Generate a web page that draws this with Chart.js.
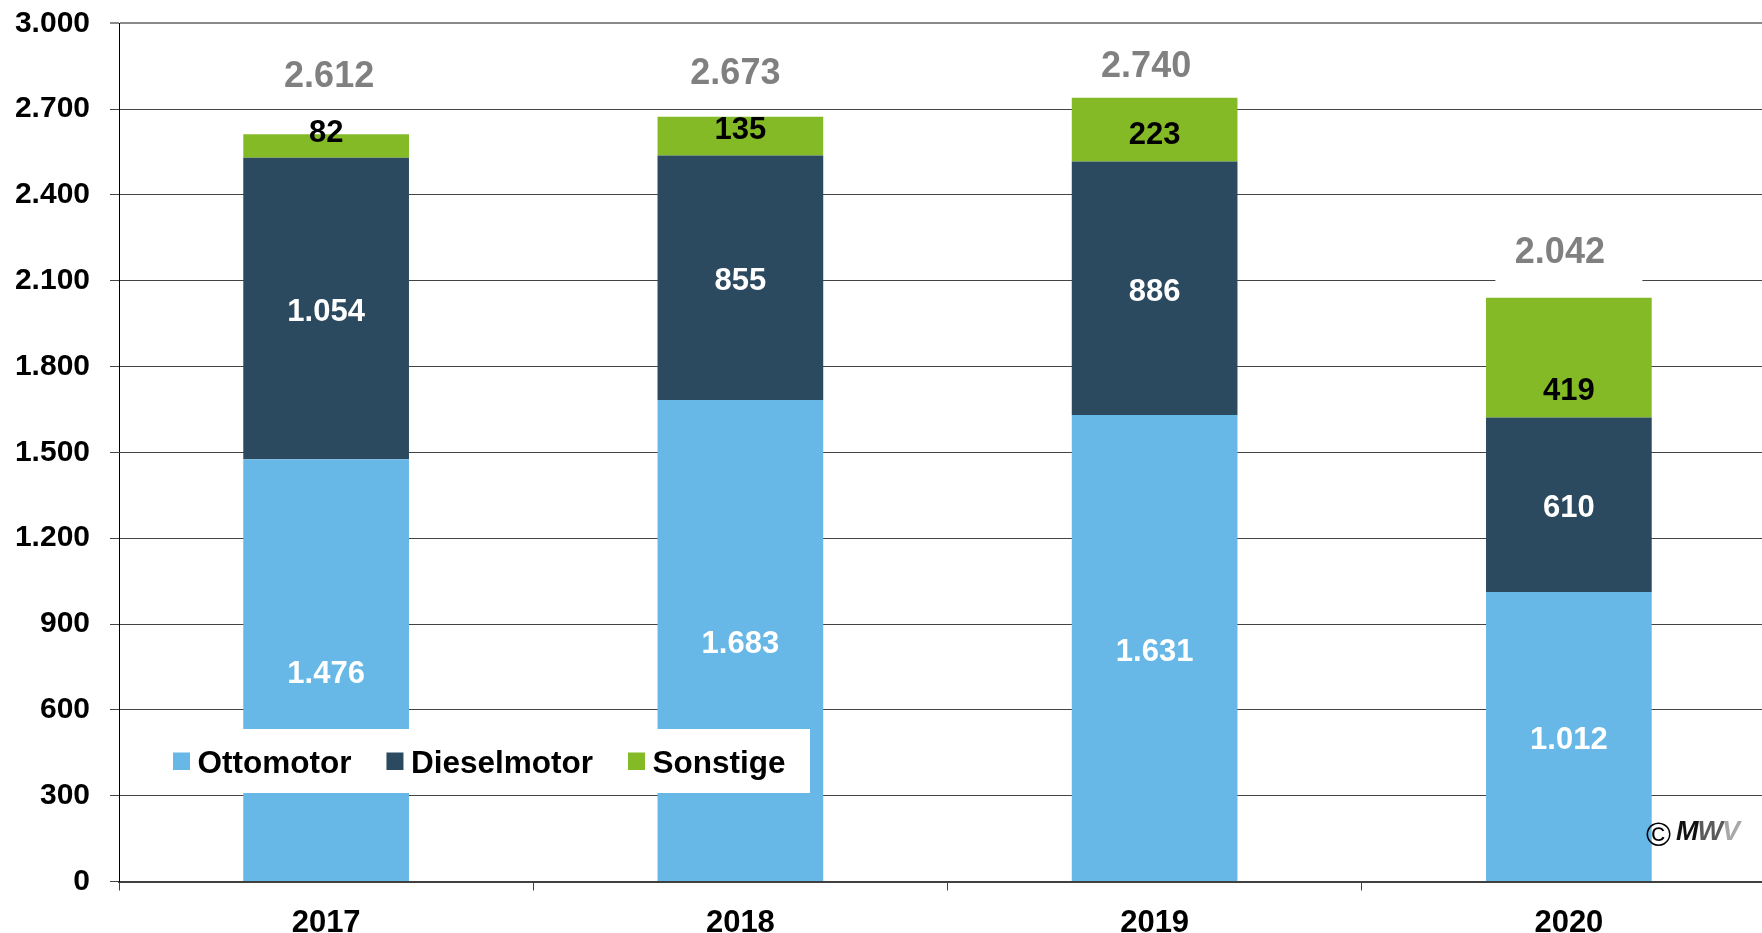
<!DOCTYPE html>
<html>
<head>
<meta charset="utf-8">
<script src="https://cdn.jsdelivr.net/npm/chart.js@4.4.1/dist/chart.umd.min.js"></script>
<style>
html,body{margin:0;padding:0;background:#fff;overflow:hidden;width:1762px;height:933px}
#wrap{position:absolute;left:0;top:0;width:1800px;height:933px}
</style>
</head>
<body>
<div id="wrap"><canvas id="c" width="1800" height="933"></canvas></div>
<script>
// ---- data ----
const categories = ['2017', '2018', '2019', '2020'];
const seriesNames = ['Ottomotor', 'Dieselmotor', 'Sonstige'];
const ottomotor = [1476, 1683, 1631, 1012];
const dieselmotor = [1054, 855, 886, 610];
const sonstige = [82, 135, 223, 419];
const totals = [2612, 2673, 2740, 2042];
const yTicks = [0, 300, 600, 900, 1200, 1500, 1800, 2100, 2400, 2700, 3000];

// ---- styles ----
const FONT = '"Liberation Sans", Arial, Helvetica, sans-serif';
const colors = ['#67B8E6', '#2C4A5F', '#85BA27'];
const labelColors = ['#ffffff', '#ffffff', '#000000'];

function fmt(v) {
  return String(v).replace(/\B(?=(\d{3})+(?!\d))/g, '.');
}

const labelPlugin = {
  id: 'customLabels',
  afterDatasetsDraw(chart, args, opts) {
    const ctx = chart.ctx;
    ctx.save();
    ctx.textAlign = 'center';
    ctx.textBaseline = 'middle';
    // segment labels
    chart.data.datasets.forEach((ds, i) => {
      const meta = chart.getDatasetMeta(i);
      meta.data.forEach((bar, j) => {
        const nud = (opts.nudge[i] && opts.nudge[i][j]) || 0;
        const y = (bar.y + bar.base) / 2 + nud + 4;
        ctx.font = 'bold 31px ' + FONT;
        ctx.fillStyle = labelColors[i];
        ctx.fillText(fmt(ds.data[j]), bar.x, y);
      });
    });
    // totals
    const last = chart.getDatasetMeta(chart.data.datasets.length - 1);
    totals.forEach((t, j) => {
      const bar = last.data[j];
      const cx = bar.x + opts.totalDx[j];
      const cy = bar.y + opts.totalDy[j] + 3;
      ctx.fillStyle = '#ffffff';
      ctx.fillRect(bar.x - 73.5, cy - 30, 147, 59.5);
      ctx.fillStyle = '#808080';
      ctx.font = 'bold 36px ' + FONT;
      ctx.fillText(fmt(t), cx, cy);
    });
    // legend
    ctx.fillStyle = '#ffffff';
    ctx.fillRect(150, 729, 660, 64);
    let x = 173;
    ctx.font = 'bold 31.5px ' + FONT;
    ctx.textAlign = 'left';
    ctx.textBaseline = 'alphabetic';
    chart.data.datasets.forEach((ds, i) => {
      ctx.fillStyle = ds.backgroundColor;
      ctx.fillRect(x, 752.5, 17, 17.5);
      x += 17 + 7.5;
      ctx.fillStyle = '#000';
      ctx.fillText(ds.label, x, 772.5);
      x += ctx.measureText(ds.label).width + 35;
    });
    // copyright
    ctx.textBaseline = 'middle';
    ctx.fillStyle = '#000';
    ctx.font = '34px ' + FONT;
    ctx.fillText('\u00A9', 1646, 837);
    ctx.font = 'italic bold 27px ' + FONT;
    let lx = 1676;
    [['M', '#111'], ['W', '#5a5a5a'], ['V', '#a8a8a8']].forEach(([ch, col]) => {
      ctx.fillStyle = col;
      ctx.fillText(ch, lx, 833);
      lx += ctx.measureText(ch).width - 1;
    });
    ctx.restore();
  }
};

const chart = new Chart(document.getElementById('c'), {
  type: 'bar',
  data: {
    labels: categories,
    datasets: [
      { label: seriesNames[0], data: ottomotor, backgroundColor: colors[0] },
      { label: seriesNames[1], data: dieselmotor, backgroundColor: colors[1] },
      { label: seriesNames[2], data: sonstige, backgroundColor: colors[2] }
    ]
  },
  options: {
    responsive: false,
    animation: false,
    devicePixelRatio: 1,
    layout: { padding: { top: 23.3, right: 24, bottom: 0, left: 0 } },
    datasets: { bar: { categoryPercentage: 1, barPercentage: 0.4 } },
    plugins: {
      legend: { display: false },
      tooltip: { enabled: false },
      customLabels: {
        nudge: [[0, 0, 0, 0], [0, 0, 0, 0], [-17, -10, 2, 30]],
        totalDx: [3, -5, -8.5, -9],
        totalDy: [-60, -46, -33.7, -47.6]
      }
    },
    scales: {
      x: {
        stacked: true,
        grid: { display: true, drawOnChartArea: false, offset: true, tickLength: 9, color: '#404040', lineWidth: 1 },
        border: { display: true, color: '#404040', width: 2 },
        ticks: { font: { family: FONT, size: 31, weight: 'bold' }, color: '#000', padding: 14 },
        afterFit(s) { s.height = 933 - 881.5; s.paddingLeft = 0; s.paddingRight = 0; }
      },
      y: {
        stacked: true,
        min: 0,
        max: 3000,
        afterBuildTicks(s) { s.ticks = yTicks.map(v => ({ value: v })); },
        grid: {
          color: c => (c.tick && c.tick.value === 3000) ? '#8a8a8a' : '#444444',
          lineWidth: c => (c.tick && c.tick.value === 3000) ? 2 : 1,
          tickLength: 9
        },
        border: { display: true, color: '#000', width: 1 },
        ticks: {
          font: { family: FONT, size: 30, weight: 'bold' },
          color: '#000',
          padding: 20,
          callback: v => fmt(v)
        },
        afterFit(s) { s.width = 119; s.paddingTop = 0; s.paddingBottom = 0; }
      }
    }
  },
  plugins: [labelPlugin]
});
</script>
</body>
</html>
